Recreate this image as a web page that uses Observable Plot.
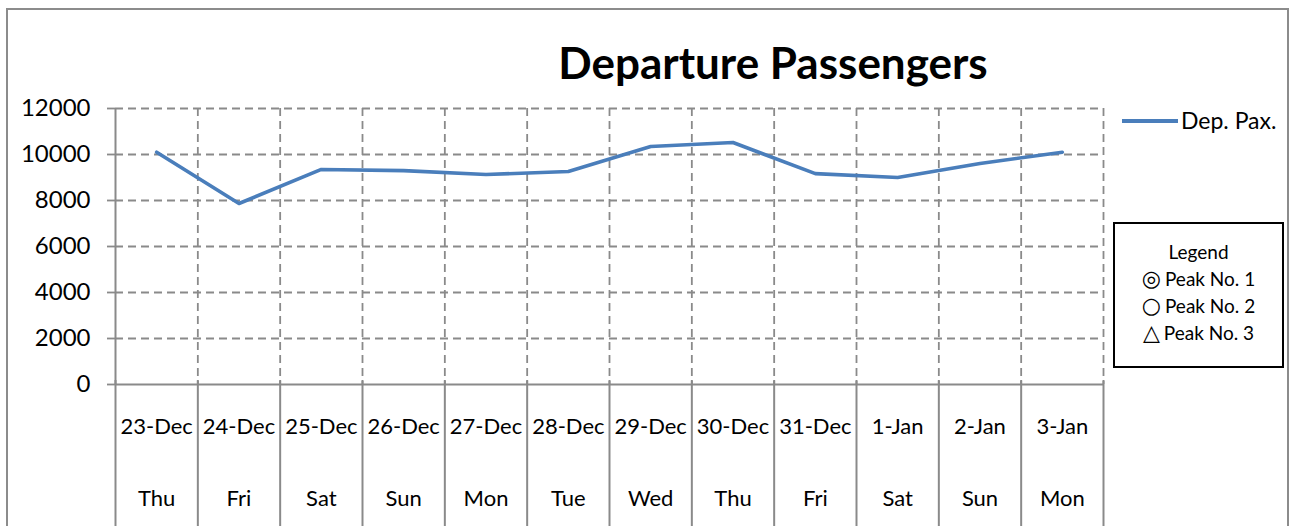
<!DOCTYPE html>
<html>
<head>
<meta charset="utf-8">
<script src="https://cdn.jsdelivr.net/npm/d3@7"></script>
<script src="https://cdn.jsdelivr.net/npm/@observablehq/plot@0.6"></script>
<style>
  html, body { margin: 0; padding: 0; background: #fff; }
  #wrap { position: relative; width: 1293px; height: 526px; overflow: hidden; font-family: Lato, "Open Sans", sans-serif; }
  #frame { position: absolute; left: 6px; top: 8px; width: 1283px; height: 530px; border: 2px solid #8c8c8c; box-sizing: border-box; }
  #title { position: absolute; left: 0; width: 1546px; top: 36px; text-align: center; font-weight: bold; font-size: 44px; color: #000; }
  #serieslegend { position: absolute; left: 1122px; top: 106px; font-size: 23px; display: flex; align-items: center; }
  #serieslegend .sw { width: 56px; height: 3.5px; background: #4a7ebb; margin-right: 3px; margin-top: 2px; }
  #peaks { position: absolute; left: 1113px; top: 222px; width: 171px; height: 146px; border: 2px solid #000; box-sizing: border-box; font-size: 19px; text-align: center; padding-top: 14px; line-height: 27px; }
  #plot { position: absolute; left: 0; top: 0; }
</style>
</head>
<body>
<div id="wrap">
  <div id="frame"></div>
  <div id="plot"></div>
  <div id="title"></div>
  <div id="serieslegend"><div class="sw"></div><span id="seriesName"></span></div>
  <div id="peaks"></div>
</div>
<script>
const dates = ["23-Dec","24-Dec","25-Dec","26-Dec","27-Dec","28-Dec","29-Dec","30-Dec","31-Dec","1-Jan","2-Jan","3-Jan"];
const days = ["Thu","Fri","Sat","Sun","Mon","Tue","Wed","Thu","Fri","Sat","Sun","Mon"];
const depPax = [10100, 7870, 9350, 9300, 9130, 9260, 10350, 10520, 9170, 9000, 9610, 10100];
const yTicks = [0, 2000, 4000, 6000, 8000, 10000, 12000];
const titleText = "Departure Passengers";
const seriesName = "Dep. Pax.";
const peakLegendTitle = "Legend";
const peakSymbols = ["◎", "○", "△"];
const peakLabels = ["Peak No. 1", "Peak No. 2", "Peak No. 3"];

const rows = depPax.map((v, i) => ({i: i + 0.5, v, date: dates[i], day: days[i]}));
const bounds = d3.range(0, dates.length + 1);
const grey = "#8a8a8a";

const W = 1293, H = 526;
const mL = 115, mR = 190, mT = 108, mB = 142;
const plotH = H - mT - mB;

const plot = Plot.plot({
  width: W, height: H,
  marginLeft: mL, marginRight: mR, marginTop: mT, marginBottom: mB,
  style: {fontFamily: "Lato, 'Open Sans', sans-serif", background: "transparent", color: "#000"},
  x: {type: "linear", domain: [0, dates.length], axis: null},
  y: {domain: [0, 12000], ticks: yTicks, label: null, tickSize: 0},
  marks: [
    Plot.ruleY(yTicks.filter(d => d > 0), {stroke: grey, strokeWidth: 1.8, strokeDasharray: "8,5"}),
    Plot.ruleY(yTicks, {stroke: grey, strokeWidth: 1.8, insetLeft: -8, x1: 0, x2: 0}),
    Plot.ruleX(bounds.filter(d => d > 0), {stroke: grey, strokeWidth: 1.8, strokeDasharray: "8,5"}),
    Plot.ruleX(bounds, {stroke: grey, strokeWidth: 2, insetTop: plotH - 4, insetBottom: -mB}),
    Plot.ruleX([0], {stroke: grey, strokeWidth: 2}),
    Plot.ruleY([0], {stroke: grey, strokeWidth: 2}),
    Plot.axisY({ticks: yTicks, tickSize: 0, tickPadding: 25, fontSize: 24, label: null, tickFormat: d => String(d)}),
    Plot.line(rows, {x: "i", y: "v", stroke: "#4a7ebb", strokeWidth: 3.6, strokeLinejoin: "round"}),
    Plot.text(rows, {x: "i", text: "date", frameAnchor: "bottom", dy: 49, fontSize: 22}),
    Plot.text(rows, {x: "i", text: "day", frameAnchor: "bottom", dy: 121, fontSize: 22})
  ]
});
document.getElementById("plot").appendChild(plot);
document.getElementById("title").textContent = titleText;
document.getElementById("seriesName").textContent = seriesName;
const pk = document.getElementById("peaks");
const h = document.createElement("div"); h.textContent = peakLegendTitle; pk.appendChild(h);
peakLabels.forEach((t, i) => {
  const d = document.createElement("div");
  const s = document.createElement("span"); s.textContent = peakSymbols[i]; s.style.fontSize = "22px"; s.style.fontFamily = "'DejaVu Sans'"; s.style.marginRight = "4px";
  const l = document.createElement("span"); l.textContent = t;
  d.appendChild(s); d.appendChild(l); pk.appendChild(d);
});
</script>
</body>
</html>
